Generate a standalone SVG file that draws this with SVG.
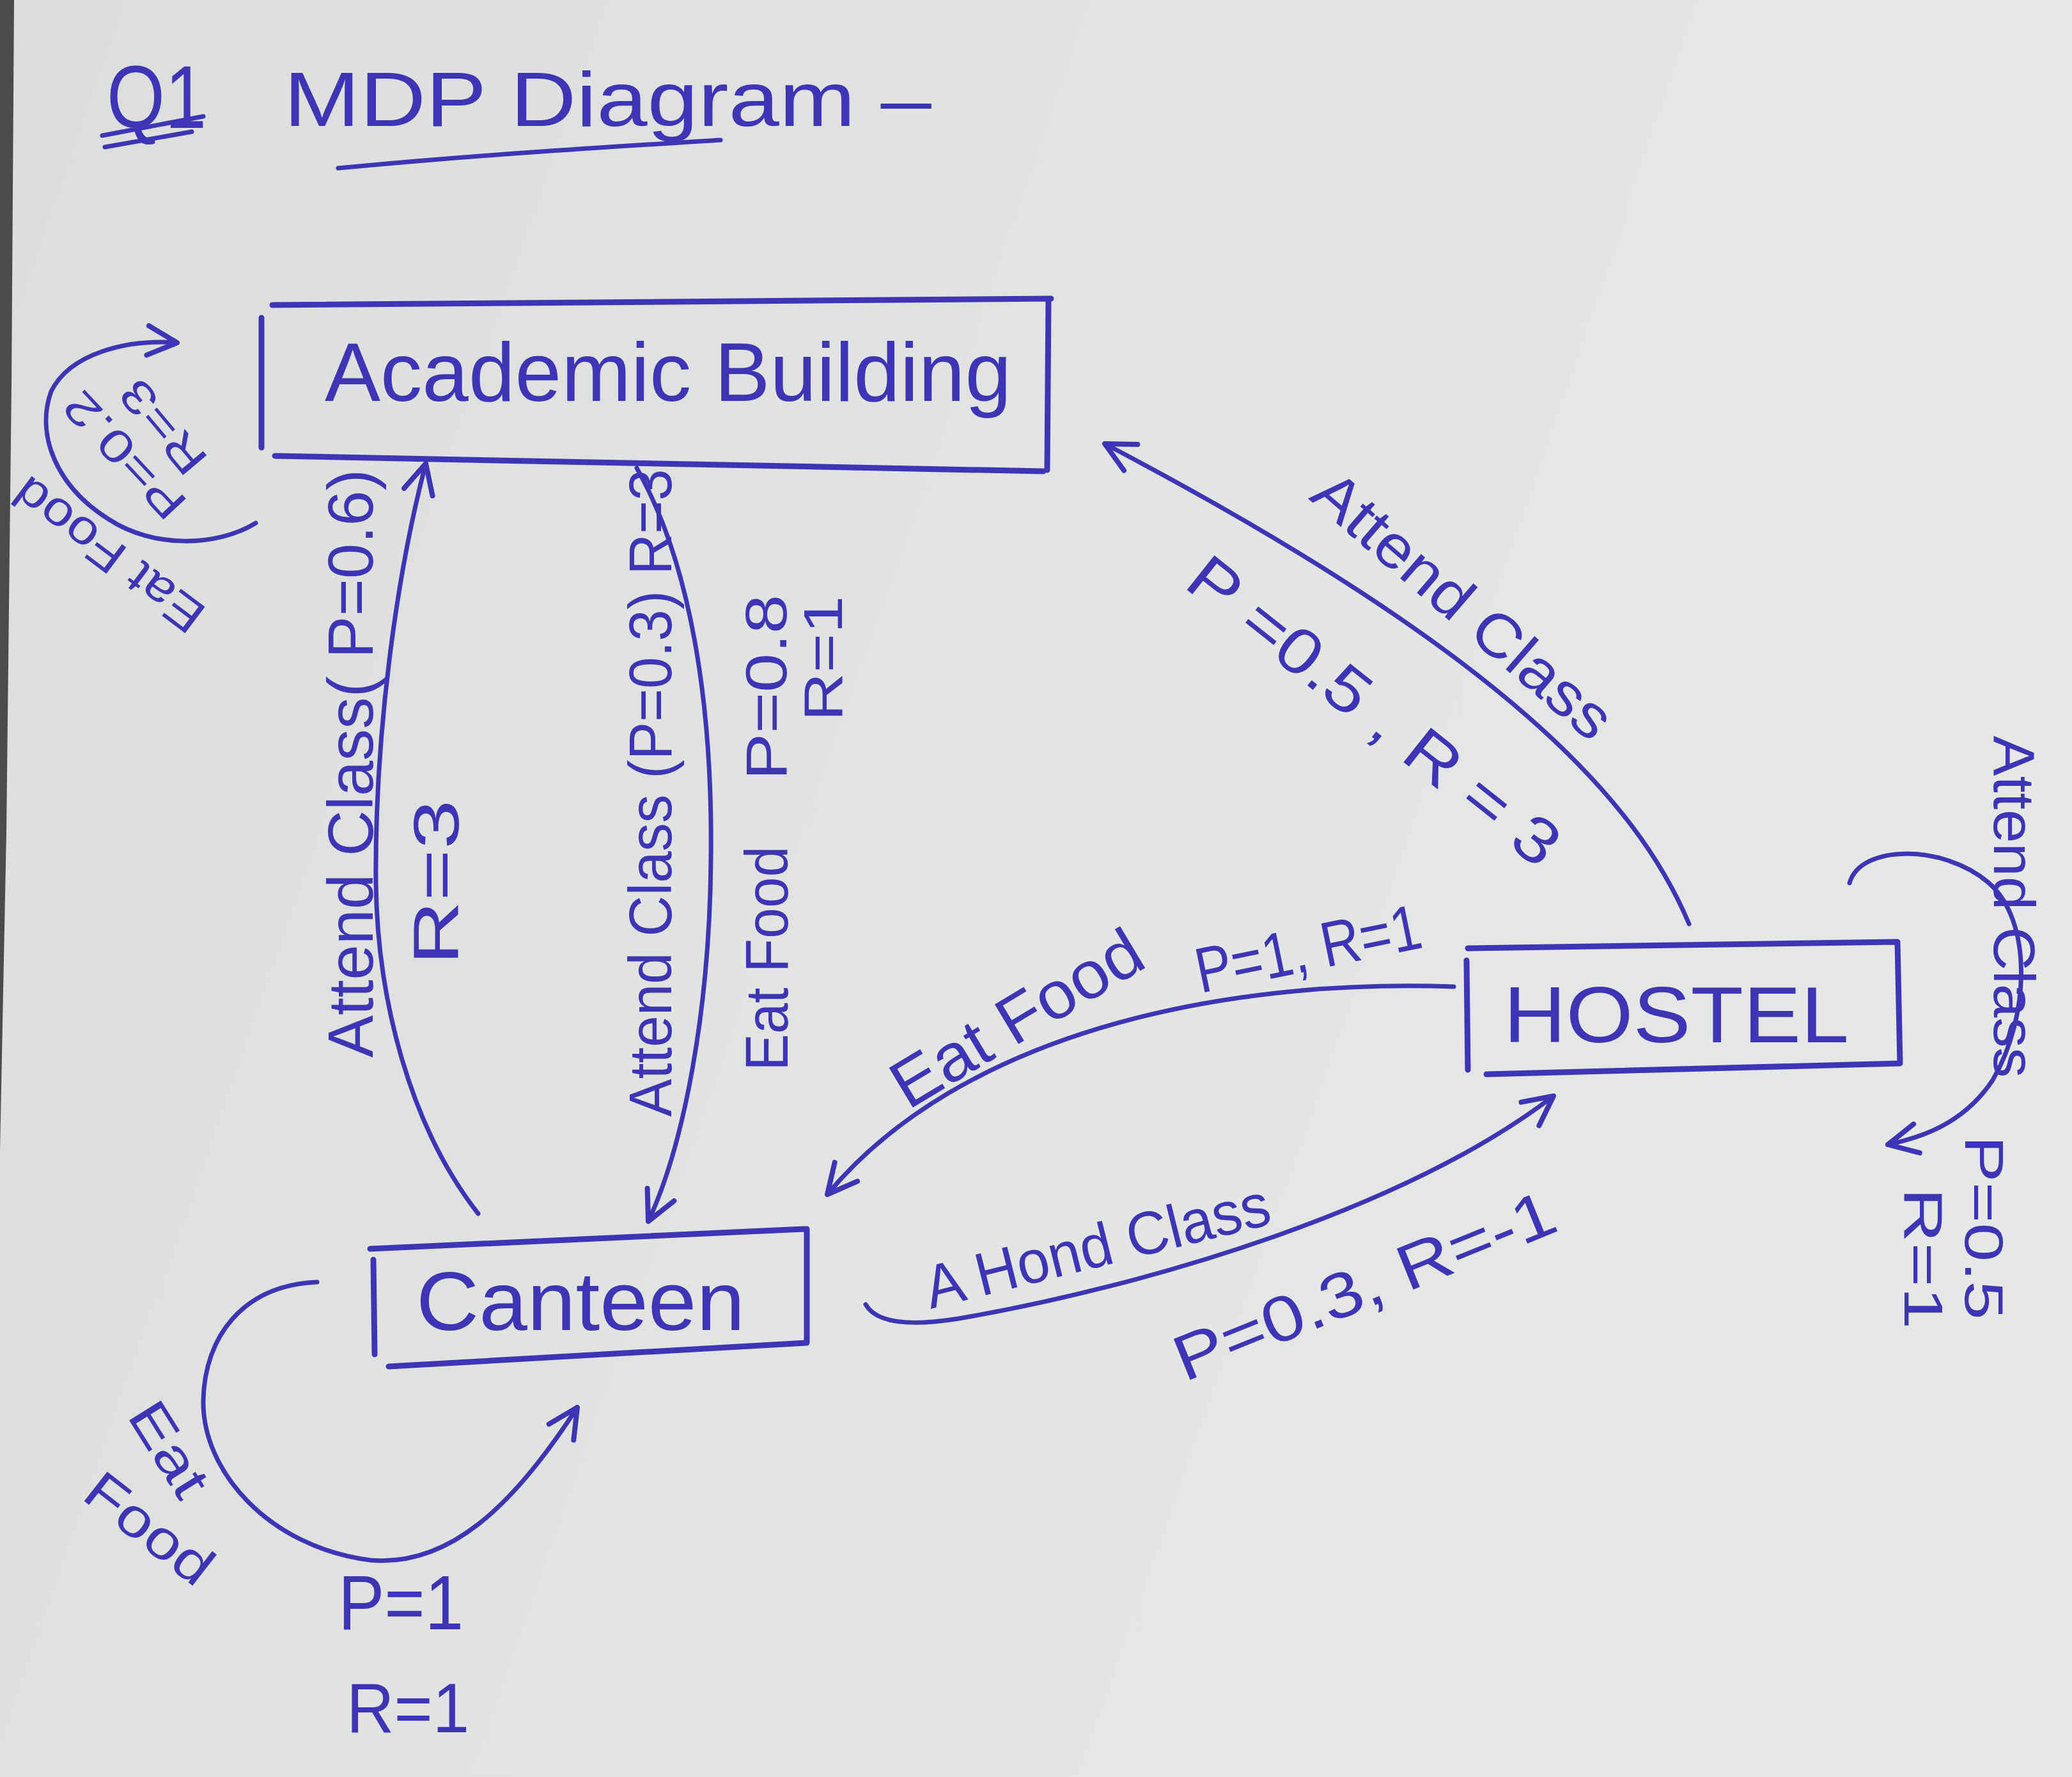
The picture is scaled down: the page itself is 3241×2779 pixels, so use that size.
<svg xmlns="http://www.w3.org/2000/svg" width="3241" height="2779" viewBox="0 0 3241 2779">
<defs>
<linearGradient id="paper" x1="0" y1="0" x2="1" y2="0.3">
<stop offset="0" stop-color="#dcdedb"/>
<stop offset="0.6" stop-color="#e3e5e2"/>
<stop offset="1" stop-color="#e6e8e6"/>
</linearGradient>
<marker id="arr" markerUnits="userSpaceOnUse" viewBox="0 0 70 60" markerWidth="70" markerHeight="60" refX="58" refY="30" orient="auto">
<path d="M12,7 L58,30 L12,53" fill="none" stroke="#3d35b5" stroke-width="8" stroke-linecap="round" stroke-linejoin="round"/>
</marker>
<style>
.ink{fill:none;stroke:#3d35b5;stroke-width:7;stroke-linecap:round;stroke-linejoin:round}
.box{fill:none;stroke:#3d35b5;stroke-width:9;stroke-linecap:round}
.t{font-family:"Liberation Sans",Arial,sans-serif;fill:#3d35b5}
.c{text-anchor:middle;dominant-baseline:central}
</style>
</defs>
<rect width="3241" height="2779" fill="url(#paper)"/>
<path d="M0,0 L22,0 L18,600 L10,1300 L0,1800 Z" fill="#4a4b4a"/>

<g id="title">
<text class="t" x="167" y="200" font-size="140" textLength="156" lengthAdjust="spacingAndGlyphs">Q1</text>
<path class="ink" d="M160,212 L318,182 M164,230 L300,206"/>
<text class="t" x="444" y="197" font-size="120" textLength="1013" lengthAdjust="spacingAndGlyphs">MDP Diagram –</text>
<path class="ink" d="M529,263 C750,242 950,230 1127,219"/>
</g>

<g id="node-academic">
<path class="box" d="M426,477 L1644,467 M1640,470 L1638,735 M430,713 L1632,737 M409,497 L409,700"/>
<text class="t" x="508" y="627" font-size="130" textLength="1074" lengthAdjust="spacingAndGlyphs">Academic Building</text>
</g>

<g id="node-canteen">
<path class="box" d="M579,1953 L1258,1922 M1262,1922 L1262,2100 M608,2137 L1262,2100 M584,1970 L586,2118"/>
<text class="t" x="651" y="2080" font-size="130" textLength="514" lengthAdjust="spacingAndGlyphs">Canteen</text>
</g>

<g id="node-hostel">
<path class="box" d="M2296,1483 L2966,1473 M2968,1473 L2972,1663 M2325,1680 L2972,1663 M2294,1502 L2296,1673"/>
<text class="t" x="2352" y="1630" font-size="125" textLength="540" lengthAdjust="spacingAndGlyphs">HOSTEL</text>
</g>

<g id="connectors">
<path class="ink" marker-end="url(#arr)" d="M748,1898 C640,1760 590,1560 588,1380 C586,1150 620,900 666,725"/>
<path class="ink" marker-end="url(#arr)" d="M996,732 C1080,880 1115,1100 1112,1344 C1110,1580 1070,1790 1014,1910"/>
<path class="ink" marker-end="url(#arr)" d="M2642,1445 C2560,1250 2350,1020 1728,694"/>
<path class="ink" marker-end="url(#arr)" d="M2274,1543 C1900,1530 1500,1620 1294,1868"/>
<path class="ink" marker-end="url(#arr)" d="M1354,2040 C1370,2068 1420,2075 1500,2062 C1800,2010 2200,1890 2430,1714"/>
<path class="ink" marker-end="url(#arr)" d="M400,818 C340,855 240,858 170,812 C90,762 55,682 80,612 C110,552 200,530 277,536"/>
<path class="ink" marker-end="url(#arr)" d="M496,2005 C380,2010 320,2090 318,2190 C316,2300 420,2420 580,2440 C700,2450 800,2360 903,2201"/>
<path class="ink" marker-end="url(#arr)" d="M2893,1381 C2910,1320 3040,1320 3110,1380 C3180,1440 3175,1590 3117,1689 C3070,1760 3000,1780 2953,1790"/>
</g>

<g id="labels">
<text class="t c" transform="translate(548,1194) rotate(-90)" font-size="100" textLength="920" lengthAdjust="spacingAndGlyphs">Attend Class( P=0.6)</text>
<text class="t c" transform="translate(682,1380) rotate(-90)" font-size="100" textLength="258" lengthAdjust="spacingAndGlyphs">R=3</text>
<text class="t c" transform="translate(1017,1240) rotate(-90)" font-size="95" textLength="1013" lengthAdjust="spacingAndGlyphs">Attend Class (P=0.3) R=3</text>
<text class="t c" transform="translate(1199,1499) rotate(-90)" font-size="95" textLength="351" lengthAdjust="spacingAndGlyphs">Eat Food</text>
<text class="t c" transform="translate(1199,1075) rotate(-90)" font-size="90" textLength="290" lengthAdjust="spacingAndGlyphs">P=0.8</text>
<text class="t c" transform="translate(1287,1030) rotate(-90)" font-size="85" textLength="196" lengthAdjust="spacingAndGlyphs">R=1</text>

<text class="t c" transform="translate(2289,946) rotate(40.8)" font-size="95" textLength="586" lengthAdjust="spacingAndGlyphs">Attend Class</text>
<text class="t c" transform="translate(2150,1111) rotate(38.5)" font-size="100" textLength="713" lengthAdjust="spacingAndGlyphs">P =0.5 , R = 3</text>

<text class="t c" transform="translate(1590,1592) rotate(-31)" font-size="105" textLength="440" lengthAdjust="spacingAndGlyphs">Eat Food</text>
<text class="t c" transform="translate(2046,1483) rotate(-11.6)" font-size="100" textLength="358" lengthAdjust="spacingAndGlyphs">P=1, R=1</text>

<text class="t c" transform="translate(1716,1948) rotate(-14)" font-size="95" textLength="553" lengthAdjust="spacingAndGlyphs">A Hond Class</text>
<text class="t c" transform="translate(2134,2010) rotate(-22)" font-size="100" textLength="635" lengthAdjust="spacingAndGlyphs">P=0.3, R=-1</text>

<text class="t c" transform="translate(255,668) rotate(-130)" font-size="70" textLength="170" lengthAdjust="spacingAndGlyphs">R=3</text>
<text class="t c" transform="translate(195,712) rotate(-133)" font-size="70" textLength="245" lengthAdjust="spacingAndGlyphs">P=0.2</text>
<text class="t c" transform="translate(170,868) rotate(-143)" font-size="75" textLength="352" lengthAdjust="spacingAndGlyphs">Eat Food</text>

<text class="t c" transform="translate(265,2266) rotate(58)" font-size="85" textLength="160" lengthAdjust="spacingAndGlyphs">Eat</text>
<text class="t c" transform="translate(234,2390) rotate(38)" font-size="85" textLength="230" lengthAdjust="spacingAndGlyphs">Food</text>
<text class="t c" x="627" y="2506" font-size="120" textLength="196" lengthAdjust="spacingAndGlyphs">P=1</text>
<text class="t c" x="638" y="2670" font-size="110" textLength="192" lengthAdjust="spacingAndGlyphs">R=1</text>

<text class="t c" transform="translate(3150,1418) rotate(90)" font-size="90" textLength="535" lengthAdjust="spacingAndGlyphs">Attend Class</text>
<text class="t c" transform="translate(3103,1920) rotate(90)" font-size="85" textLength="288" lengthAdjust="spacingAndGlyphs">P=0.5</text>
<text class="t c" transform="translate(3008,1968) rotate(90)" font-size="85" textLength="221" lengthAdjust="spacingAndGlyphs">R=1</text>
</g>
</svg>
